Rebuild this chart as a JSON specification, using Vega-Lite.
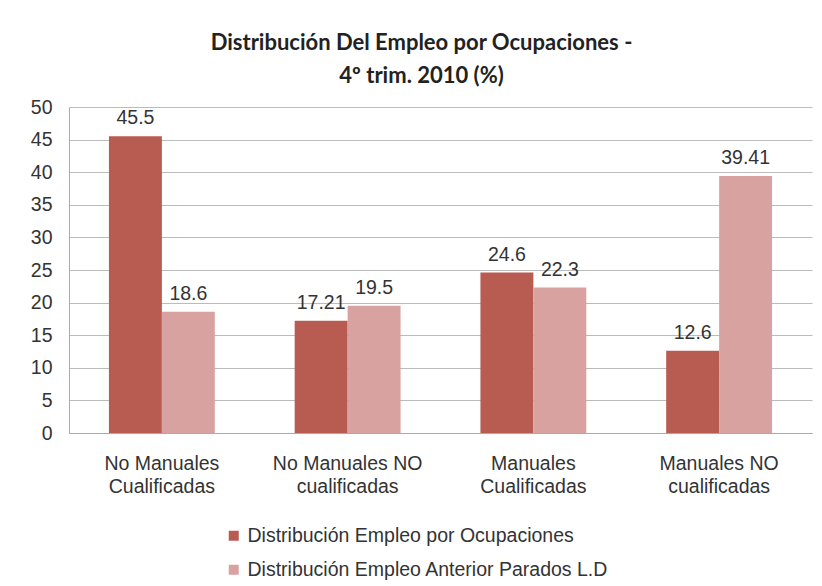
{
  "$schema": "https://vega.github.io/schema/vega-lite/v6.json",
  "autosize": "none",
  "width": 743,
  "height": 326,
  "padding": {"left": 69, "top": 107, "right": 10, "bottom": 153},
  "background": "#ffffff",
  "title": {
    "text": ["Distribución Del Empleo por Ocupaciones -", "4º trim. 2010 (%)"],
    "font": "Lato",
    "fontSize": 22,
    "fontWeight": "bold",
    "color": "#222222",
    "anchor": "middle",
    "dx": -19,
    "offset": 9,
    "lineHeight": 33
  },
  "data": {
    "values": [
      {"cat": "No Manuales|Cualificadas", "serie": "Distribución Empleo por Ocupaciones", "valor": 45.5, "etiqueta": "45.5"},
      {"cat": "No Manuales|Cualificadas", "serie": "Distribución Empleo Anterior Parados L.D", "valor": 18.6, "etiqueta": "18.6"},
      {"cat": "No Manuales NO|cualificadas", "serie": "Distribución Empleo por Ocupaciones", "valor": 17.21, "etiqueta": "17.21"},
      {"cat": "No Manuales NO|cualificadas", "serie": "Distribución Empleo Anterior Parados L.D", "valor": 19.5, "etiqueta": "19.5"},
      {"cat": "Manuales|Cualificadas", "serie": "Distribución Empleo por Ocupaciones", "valor": 24.6, "etiqueta": "24.6"},
      {"cat": "Manuales|Cualificadas", "serie": "Distribución Empleo Anterior Parados L.D", "valor": 22.3, "etiqueta": "22.3"},
      {"cat": "Manuales NO|cualificadas", "serie": "Distribución Empleo por Ocupaciones", "valor": 12.6, "etiqueta": "12.6"},
      {"cat": "Manuales NO|cualificadas", "serie": "Distribución Empleo Anterior Parados L.D", "valor": 39.41, "etiqueta": "39.41"}
    ]
  },
  "encoding": {
    "x": {
      "field": "cat",
      "type": "nominal",
      "sort": null,
      "scale": {"paddingInner": 0.43, "paddingOuter": 0.215},
      "axis": {
        "title": null,
        "labelAngle": 0,
        "labelExpr": "split(datum.label, '|')",
        "labelFont": "Liberation Sans",
        "labelFontSize": 19.5,
        "labelColor": "#333333",
        "labelLineHeight": 23,
        "labelPadding": 21,
        "ticks": false,
        "domainColor": "#aaaaaa",
        "labelBaseline": "top"
      }
    },
    "xOffset": {"field": "serie", "type": "nominal", "sort": ["Distribución Empleo por Ocupaciones", "Distribución Empleo Anterior Parados L.D"]},
    "y": {
      "field": "valor",
      "type": "quantitative",
      "scale": {"domain": [0, 50], "nice": false},
      "axis": {
        "title": null,
        "values": [0, 5, 10, 15, 20, 25, 30, 35, 40, 45, 50],
        "labelFont": "Liberation Sans",
        "labelFontSize": 19.5,
        "labelColor": "#333333",
        "labelPadding": 17,
        "ticks": false,
        "domainColor": "#aaaaaa",
        "gridColor": "#bbbbbb",
        "grid": true
      }
    }
  },
  "layer": [
    {
      "mark": {"type": "bar"},
      "encoding": {
        "color": {
          "field": "serie",
          "type": "nominal",
          "sort": ["Distribución Empleo por Ocupaciones", "Distribución Empleo Anterior Parados L.D"],
          "scale": {"range": ["#b85b50", "#d8a2a1"]},
          "legend": {
            "title": null,
            "orient": "none",
            "legendX": 155,
            "legendY": 419,
            "direction": "vertical",
            "symbolType": "square",
            "symbolSize": 100,
            "symbolStrokeWidth": 0,
            "labelFont": "Liberation Sans",
            "labelFontSize": 19.5,
            "labelColor": "#333333",
            "labelOffset": 4,
            "rowPadding": 13,
            "labelLimit": 600
          }
        }
      }
    },
    {
      "mark": {"type": "text", "baseline": "bottom", "dy": -8, "font": "Liberation Sans", "fontSize": 19.5, "color": "#333333"},
      "encoding": {
        "text": {"field": "etiqueta", "type": "nominal"}
      }
    }
  ],
  "config": {
    "view": {"stroke": null}
  }
}
